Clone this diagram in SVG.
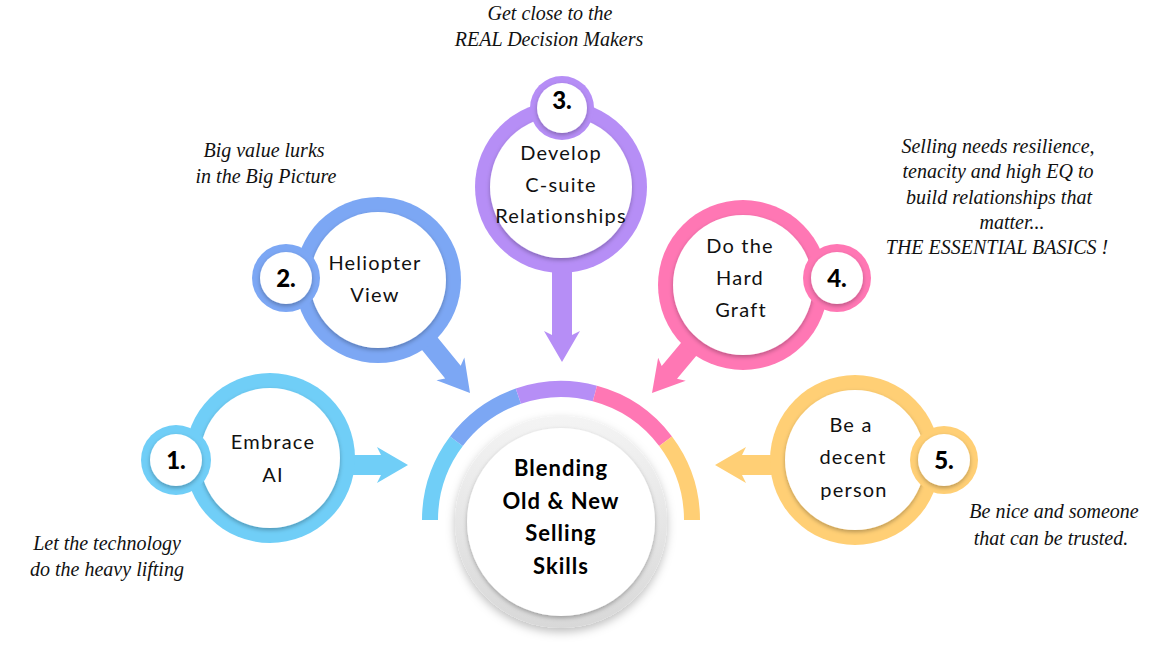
<svg xmlns="http://www.w3.org/2000/svg" width="1163" height="645" viewBox="0 0 1163 645">
<defs>
<filter id="sh" x="-20%" y="-20%" width="140%" height="140%">
<feDropShadow dx="0" dy="2" stdDeviation="2" flood-color="#000" flood-opacity="0.28"/>
</filter>
<filter id="shc" x="-30%" y="-30%" width="160%" height="160%">
<feDropShadow dx="0" dy="4" stdDeviation="5" flood-color="#000" flood-opacity="0.25"/>
</filter>
<linearGradient id="ringG" x1="0" y1="0" x2="0" y2="1">
<stop offset="0" stop-color="#f4f4f4"/>
<stop offset="1" stop-color="#d8d8d8"/>
</linearGradient>
<path id="arr" d="M0,0 L-31,-18 L-27,-10 L-80,-10 L-80,10 L-27,10 L-31,18 Z"/>
<path id="arrL" d="M0,0 L-31,-18 L-27,-10 L-110,-10 L-110,10 L-27,10 L-31,18 Z"/>
</defs>
<style>
.lab{font-family:Lato,"Open Sans",sans-serif;font-weight:400;font-size:20px;letter-spacing:1.2px;fill:#111;text-anchor:middle}
.num{font-family:Lato,"Open Sans",sans-serif;font-weight:900;font-size:24px;fill:#000;text-anchor:middle}
.ctr{font-family:Lato,"Open Sans",sans-serif;font-weight:700;font-size:22px;letter-spacing:1px;fill:#000;text-anchor:middle}
.note{font-family:"Liberation Serif",serif;font-style:italic;font-size:20px;fill:#111;text-anchor:middle}
.wd{fill:#fff;filter:url(#sh)}
.c1{fill:#70cef7}.c2{fill:#7ca7f4}.c3{fill:#b68ef6}.c4{fill:#ff77b4}.c5{fill:#ffcf75}
.arc{fill:none;stroke-width:16}
</style>
<rect width="1163" height="645" fill="#fff"/>

<g id="center-arc">
<path class="arc" stroke="#70cef7" d="M430,520 A131,131 0 0 1 456.4,441.2"/>
<path class="arc" stroke="#7ca7f4" d="M456.4,441.2 A131,131 0 0 1 518.35,396.14"/>
<path class="arc" stroke="#b68ef6" d="M518.35,396.14 A131,131 0 0 1 594.9,393.47"/>
<path class="arc" stroke="#ff77b4" d="M594.9,393.47 A131,131 0 0 1 665.6,441.2"/>
<path class="arc" stroke="#ffcf75" d="M665.6,441.2 A131,131 0 0 1 692,520"/>
</g>

<g id="connectors">
<use href="#arr" class="c1" transform="translate(408,465)"/>
<use href="#arr" class="c2" transform="translate(470,393) rotate(50.8)"/>
<use href="#arrL" class="c3" transform="translate(562,362) rotate(90)"/>
<use href="#arr" class="c4" transform="translate(652,393) rotate(130)"/>
<use href="#arr" class="c5" transform="translate(715,465) rotate(180)"/>
</g>

<g id="center">
<circle cx="561" cy="522" r="106" fill="url(#ringG)" filter="url(#shc)"/>
<circle cx="561" cy="522" r="94" class="wd"/>
<text class="ctr" x="561" y="476">Blending</text>
<text class="ctr" x="561" y="508.5">Old &amp; New</text>
<text class="ctr" x="561" y="541">Selling</text>
<text class="ctr" x="561" y="574">Skills</text>
</g>

<g id="node1">
<circle cx="270" cy="458" r="85" class="c1"/>
<circle cx="270" cy="458" r="70" class="wd"/>
<circle cx="176" cy="460" r="35" class="c1"/>
<circle cx="176" cy="460" r="26" class="wd"/>
<text class="num" x="176" y="469">1.</text>
<text class="lab" x="273" y="449">Embrace</text>
<text class="lab" x="273" y="482">AI</text>
</g>

<g id="node2">
<circle cx="378" cy="280" r="83" class="c2"/>
<circle cx="378" cy="280" r="68" class="wd"/>
<circle cx="286" cy="278" r="34" class="c2"/>
<circle cx="286" cy="278" r="26" class="wd"/>
<text class="num" x="286" y="287">2.</text>
<text class="lab" x="375" y="270">Heliopter</text>
<text class="lab" x="375" y="302">View</text>
</g>

<g id="node3">
<circle cx="561" cy="187" r="86" class="c3"/>
<circle cx="561" cy="187" r="71" class="wd"/>
<circle cx="562" cy="108" r="32" class="c3"/>
<circle cx="562" cy="108" r="25" class="wd"/>
<text class="num" x="562" y="109">3.</text>
<text class="lab" x="561" y="160">Develop</text>
<text class="lab" x="561" y="192">C-suite</text>
<text class="lab" x="561" y="223">Relationships</text>
</g>

<g id="node4">
<circle cx="743" cy="285" r="85" class="c4"/>
<circle cx="743" cy="285" r="70" class="wd"/>
<circle cx="837" cy="278" r="34" class="c4"/>
<circle cx="837" cy="278" r="26" class="wd"/>
<text class="num" x="837" y="287">4.</text>
<text class="lab" x="740" y="253">Do the</text>
<text class="lab" x="740" y="285">Hard</text>
<text class="lab" x="741" y="317">Graft</text>
</g>

<g id="node5">
<circle cx="855" cy="460" r="85" class="c5"/>
<circle cx="855" cy="460" r="70" class="wd"/>
<circle cx="944" cy="460" r="34" class="c5"/>
<circle cx="944" cy="460" r="26" class="wd"/>
<text class="num" x="944" y="469">5.</text>
<text class="lab" x="851" y="432">Be a</text>
<text class="lab" x="853" y="464">decent</text>
<text class="lab" x="854" y="497">person</text>
</g>

<g id="notes">
<text class="note" x="550" y="20">Get close to the</text>
<text class="note" x="549" y="46">REAL Decision Makers</text>
<text class="note" x="264" y="157">Big value lurks</text>
<text class="note" x="266" y="183">in the Big Picture</text>
<text class="note" x="998" y="153">Selling needs resilience,</text>
<text class="note" x="998" y="178">tenacity and high EQ to</text>
<text class="note" x="999" y="204">build relationships that</text>
<text class="note" x="1012" y="229">matter...</text>
<text class="note" x="997" y="254">THE ESSENTIAL BASICS !</text>
<text class="note" x="1054" y="518">Be nice and someone</text>
<text class="note" x="1051" y="545">that can be trusted.</text>
<text class="note" x="107" y="550">Let the technology</text>
<text class="note" x="107" y="576">do the heavy lifting</text>
</g>
</svg>
